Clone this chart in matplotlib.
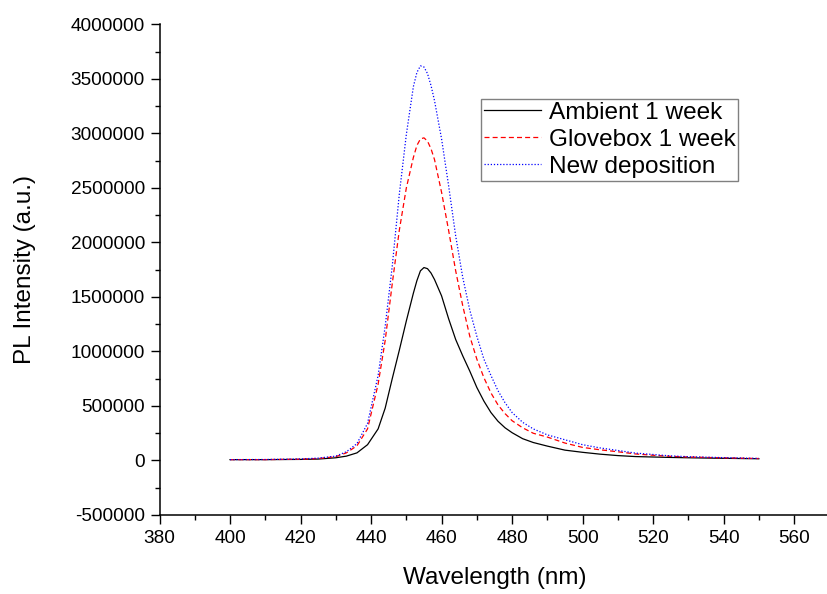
import matplotlib
matplotlib.use("Agg")
import matplotlib.pyplot as plt
from matplotlib.ticker import MultipleLocator

plt.rcParams["font.family"] = ["Liberation Sans", "DejaVu Sans"]
plt.rcParams["axes.unicode_minus"] = False

# Data
wavelength = [400, 410, 420, 425, 430, 433, 436, 439, 442, 444, 446, 448,
              450, 452, 453, 454, 455, 456, 457, 458, 460, 462, 464, 466,
              468, 470, 472, 474, 476, 478, 480, 483, 486, 490, 495, 500,
              505, 510, 515, 520, 525, 530, 540, 550]

ambient = [8000, 8000, 10000, 13000, 25000, 40000, 70000, 145000, 290000,
           480000, 750000, 1010000, 1280000, 1535000, 1650000, 1740000,
           1770000, 1760000, 1720000, 1660000, 1510000, 1300000, 1110000,
           960000, 820000, 670000, 545000, 440000, 360000, 300000, 255000,
           200000, 165000, 132000, 95000, 75000, 58000, 45000, 36000, 32000,
           28000, 25000, 20000, 16000]

glovebox = [8000, 8000, 12000, 18000, 35000, 70000, 135000, 290000, 700000,
            1100000, 1620000, 2110000, 2500000, 2780000, 2890000, 2950000,
            2960000, 2930000, 2860000, 2760000, 2460000, 2110000, 1740000,
            1420000, 1140000, 930000, 760000, 620000, 510000, 430000, 365000,
            300000, 250000, 215000, 160000, 120000, 98000, 80000, 60000,
            48000, 38000, 32000, 24000, 18000]

new_dep = [8000, 9000, 14000, 22000, 40000, 80000, 155000, 340000, 780000,
           1230000, 1780000, 2440000, 2990000, 3430000, 3560000, 3620000,
           3610000, 3550000, 3440000, 3300000, 2950000, 2520000, 2060000,
           1680000, 1380000, 1140000, 930000, 780000, 640000, 530000, 440000,
           350000, 290000, 235000, 190000, 145000, 115000, 92000, 68000,
           55000, 42000, 35000, 26000, 19000]

fig = plt.figure(figsize=(8.27, 5.94), dpi=100)
ax = fig.add_axes([0.1929, 0.133, 0.810, 0.8258])

ax.plot(wavelength, ambient, color="black", linewidth=0.9,
        label="Ambient 1 week")
ax.plot(wavelength, glovebox, color="#ff0000", linewidth=0.9,
        linestyle=(0, (4, 2.5)), label="Glovebox 1 week")
ax.plot(wavelength, new_dep, color="#0000ff", linewidth=0.9,
        linestyle=(0, (1, 1.5)), label="New deposition")

ax.set_xlim(380, 570)
ax.set_ylim(-500000, 4000000)
ax.xaxis.set_major_locator(MultipleLocator(20))
ax.xaxis.set_minor_locator(MultipleLocator(10))
ax.yaxis.set_major_locator(MultipleLocator(500000))
ax.yaxis.set_minor_locator(MultipleLocator(250000))
ax.ticklabel_format(axis="y", style="plain", useOffset=False)

for side in ["top", "right"]:
    ax.spines[side].set_visible(False)
for side in ["left", "bottom"]:
    ax.spines[side].set_linewidth(1.1)

ax.tick_params(which="major", direction="out", length=6.5, width=1.0,
               labelsize=13.7, pad=4)
ax.tick_params(which="minor", direction="out", length=3.6, width=1.0)

ax.set_xlabel("Wavelength (nm)", fontsize=17.5, labelpad=15)
ax.set_ylabel("PL Intensity (a.u.)", fontsize=17.5, labelpad=25)

leg = ax.legend(loc="upper left", bbox_to_anchor=(481 / 827, 1 - 99 / 594),
                bbox_transform=fig.transFigure, borderaxespad=0,
                fontsize=17.6, handlelength=2.35, handletextpad=0.3,
                labelspacing=0.2, borderpad=0.12, fancybox=False,
                framealpha=1, edgecolor="#808080")
leg.get_frame().set_linewidth(1.0)

fig.savefig("out.png", dpi=100)
